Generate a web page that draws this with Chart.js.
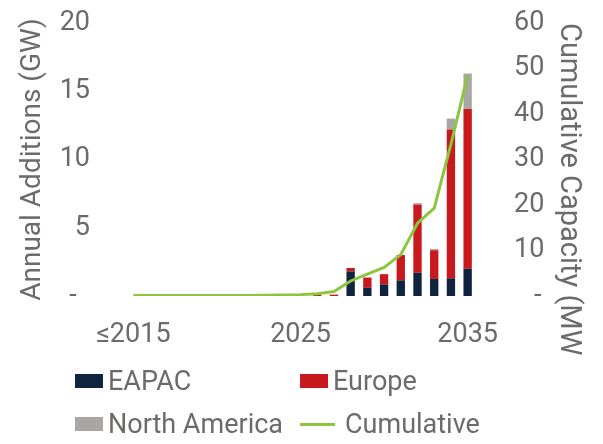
<!DOCTYPE html>
<html>
<head>
<meta charset="utf-8">
<script src="https://cdn.jsdelivr.net/npm/chart.js@4/dist/chart.umd.min.js"></script>
<style>
  html, body { margin: 0; padding: 0; background: #fff; }
  #wrap { position: relative; width: 603px; height: 444px; }
  #legend { position: absolute; left: 75px; top: 365px; font-family: Roboto, sans-serif; font-size: 27px; color: #6e6a6a;
            display: grid; grid-template-columns: 225px 200px; row-gap: 11px; }
  .item { display: flex; align-items: center; line-height: 32px; white-space: nowrap; }
  .box { width: 28px; height: 14px; margin-right: 5px; }
  .ln { width: 35px; height: 3px; margin-right: 10px; }
</style>
</head>
<body>
<div id="wrap">
  <canvas id="chart" width="603" height="444"></canvas>
  <div id="legend"></div>
</div>
<script>
var years = ['≤2015', '2016', '2017', '2018', '2019', '2020', '2021', '2022', '2023', '2024', '2025',
             '2026', '2027', '2028', '2029', '2030', '2031', '2032', '2033', '2034', '2035'];

// annual additions (GW), left axis
var eapac        = [0, 0, 0, 0, 0, 0, 0, 0, 0, 0, 0, 0, 0, 1.8, 0.6, 0.85, 1.15, 1.7, 1.25, 1.3, 2.0];
var europe       = [0, 0, 0, 0, 0, 0, 0, 0, 0, 0, 0, 0.1, 0.1, 0.25, 0.75, 0.75, 1.85, 5.0, 2.1, 10.9, 11.7];
var northAmerica = [0, 0, 0, 0, 0, 0, 0, 0, 0, 0, 0, 0, 0, 0, 0, 0, 0, 0.1, 0.1, 0.8, 2.6];

// cumulative capacity, right axis
var cumulative   = [0.1, 0.1, 0.1, 0.1, 0.1, 0.1, 0.1, 0.1, 0.15, 0.2, 0.3, 0.5, 1.0, 3.3, 4.8, 6.3, 9.1, 16, 19.3, 33.3, 48.5];

var shownYears = ['≤2015', '2025', '2035'];

var grey = '#6e6a6a';
var font = { family: 'Roboto', size: 27 };

// fixed side widths; tick padding would otherwise push the plot top down
function fixWidth(w) {
    return function (s) { s.width = w; s.paddingTop = 16; s.paddingBottom = 16; };
}

var chart = new Chart(document.getElementById('chart'), {
    type: 'bar',
    data: {
        labels: years,
        datasets: [
            { type: 'line', label: 'Cumulative', data: cumulative, yAxisID: 'y2', borderColor: '#8cc63f',
              borderWidth: 3, pointRadius: 0, tension: 0, fill: false, order: 0 },
            { label: 'EAPAC', data: eapac, backgroundColor: '#10243f', stack: 's', order: 1 },
            { label: 'Europe', data: europe, backgroundColor: '#c8191f', stack: 's', order: 1 },
            { label: 'North America', data: northAmerica, backgroundColor: '#aaa6a6', stack: 's', order: 1 }
        ]
    },
    options: {
        responsive: false,
        animation: false,
        layout: { padding: { top: 23, bottom: 88, left: 0, right: 0 } },
        datasets: { bar: { barPercentage: 0.5, categoryPercentage: 1 } },
        plugins: { legend: { display: false }, tooltip: { enabled: false } },
        scales: {
            x: {
                stacked: true,
                grid: { display: false, drawTicks: false },
                border: { display: false },
                ticks: {
                    autoSkip: false, maxRotation: 0, padding: 23, color: grey, font: font,
                    callback: function (v, i) { return shownYears.indexOf(years[i]) >= 0 ? years[i] : ''; }
                },
                afterFit: function (s) { s.height = 60; }
            },
            y: {
                stacked: true, min: 0, max: 20,
                grid: { display: false, drawTicks: false },
                border: { display: false },
                ticks: { stepSize: 5, padding: 35, color: grey, font: font,
                         callback: function (v) { return v === 0 ? '-  ' : v; } },
                title: { display: true, text: 'Annual Additions (GW)', color: grey, font: { family: 'Roboto', size: 28 },
                         padding: { top: 16, bottom: 0 } },
                afterFit: fixWidth(125)
            },
            y2: {
                position: 'right', min: 0, max: 60,
                grid: { display: false, drawTicks: false },
                border: { display: false },
                ticks: { stepSize: 10, padding: 38, color: grey, font: font,
                         callback: function (v) { return v === 0 ? '   -' : v; } },
                title: { display: true, text: 'Cumulative Capacity (MW', align: 'end', color: grey,
                         font: { family: 'Roboto', size: 29 }, padding: { top: 17, bottom: 0 } },
                afterFit: fixWidth(127)
            }
        }
    }
});

// html legend, two columns like the original
var legendOrder = ['EAPAC', 'Europe', 'North America', 'Cumulative'];
var legendEl = document.getElementById('legend');
legendOrder.forEach(function (name) {
    var ds = chart.data.datasets.filter(function (d) { return d.label === name; })[0];
    var item = document.createElement('div');
    item.className = 'item';
    var mark = document.createElement('span');
    if (ds.type === 'line') {
        mark.className = 'ln';
        mark.style.background = ds.borderColor;
    } else {
        mark.className = 'box';
        mark.style.background = ds.backgroundColor;
    }
    item.appendChild(mark);
    item.appendChild(document.createTextNode(name));
    legendEl.appendChild(item);
});
</script>
</body>
</html>
